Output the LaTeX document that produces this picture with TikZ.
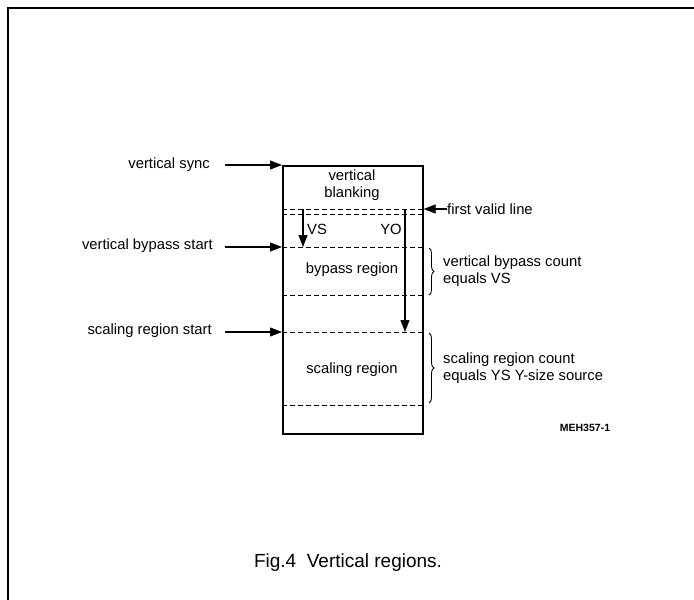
\documentclass[tikz,border=0pt]{standalone}
\usepackage{fontspec}
\setmainfont{Liberation Sans}
\usetikzlibrary{positioning, calc, arrows.meta, decorations.pathreplacing}

\begin{document}
\begin{tikzpicture}[
    x=1pt, y=-1pt,
    lbl/.style={font=\fontsize{14.8}{17}\selectfont, inner sep=0pt, align=left},
    region/.style={draw, line width=1.6pt, minimum width=140pt, minimum height=268pt, inner sep=0pt},
    sep/.style={dash pattern=on 5pt off 3pt, line width=1pt},
    arr/.style={-{Triangle[length=12pt, width=9pt]}, line width=1.1pt},
    brc/.style={decorate, decoration={brace, amplitude=5pt}, line width=0.9pt},
]
\useasboundingbox (0,0) rectangle (694,600);

% Page frame
\draw[line width=2.2pt] (8,600) -- (8,8) -- (694,8);

% Field box
\node[region, anchor=north west] (field) at (282,165) {};
\node[lbl, align=center] (blank) at (352,185) {vertical\\blanking};

% Line marks
\coordinate (fvA) at (282,209);
\coordinate (fvB) at (282,214);
\coordinate (bpS) at (282,247);
\coordinate (bpE) at (282,295);
\coordinate (scS) at (282,332);
\coordinate (scE) at (282,405);
\foreach \m in {fvA, fvB, bpS, bpE, scS, scE}
    \draw[sep] (\m) -- (\m -| field.east);

\node[lbl] (bypass) at (352,270) {bypass region};
\node[lbl] (scaling) at (352,370) {scaling region};

% Offsets
\coordinate (vsTop) at (303,209);
\coordinate (yoTop) at (405,209);
\draw[arr] (vsTop) -- (vsTop |- bpS);
\draw[arr] (yoTop) -- (yoTop |- scS);
\node[lbl] (vs) at (317,229) {VS};
\node[lbl] (yo) at (391,229) {YO};

% Left markers
\node[lbl, anchor=east] (vsync) at (210,165) {vertical sync};
\node[lbl, anchor=east] (bpstart) at (213,246) {vertical bypass start};
\node[lbl, anchor=east] (scstart) at (212,331) {scaling region start};
\draw[arr] ([xshift=15pt]vsync.east) -- (vsync -| field.west);
\draw[arr] ([xshift=12pt]bpstart.east |- bpS) -- (bpS);
\draw[arr] ([xshift=13pt]scstart.east |- scS) -- (scS);

% Right markers
\node[lbl, anchor=west] (fvl) at (447,209) {first valid line};
\draw[arr] (fvl.west) -- (fvl.west -| field.east);

\draw[brc] (429,248) -- (429,295);
\node[lbl, anchor=west] (bpcount) at (443,271) {vertical bypass count\\equals VS};
\draw[brc] (429,333) -- (429,403);
\node[lbl, anchor=west] (sccount) at (443,368.5) {scaling region count\\equals YS Y-size source};

\node[font=\bfseries\fontsize{10.5}{12}\selectfont, inner sep=0pt] (ref) at (585,428) {MEH357-1};

% Caption
\node[font=\fontsize{19}{22}\selectfont, inner sep=0pt] (cap) at (348,563) {Fig.4\ \ Vertical regions.};

\end{tikzpicture}
\end{document}
